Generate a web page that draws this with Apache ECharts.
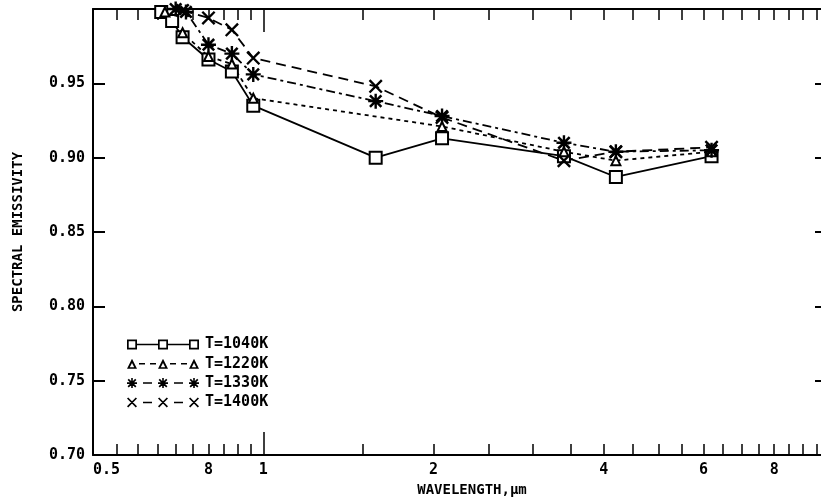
<!DOCTYPE html>
<html>
<head>
<meta charset="utf-8">
<script src="https://cdn.jsdelivr.net/npm/echarts@6/dist/echarts.min.js"></script>
<style>html,body{margin:0;padding:0;background:#fff;}#c{width:821px;height:498px;}</style>
</head>
<body>
<div id="c"></div>
<script>
// ---- data ----
const wl1040 = [0.66, 0.69, 0.72, 0.80, 0.88, 0.96, 1.58, 2.07, 3.4, 4.2, 6.2];
const em1040 = [0.998, 0.992, 0.981, 0.966, 0.958, 0.935, 0.900, 0.913, 0.901, 0.887, 0.901];
const wl1220 = [0.67, 0.72, 0.80, 0.88, 0.96, 2.07, 3.4, 4.2, 6.2];
const em1220 = [0.998, 0.984, 0.968, 0.963, 0.940, 0.921, 0.904, 0.898, 0.904];
const wl1330 = [0.70, 0.73, 0.80, 0.88, 0.96, 1.58, 2.07, 3.4, 4.2, 6.2];
const em1330 = [1.000, 0.998, 0.976, 0.970, 0.956, 0.938, 0.928, 0.910, 0.904, 0.905];
const wl1400 = [0.72, 0.80, 0.88, 0.96, 1.58, 2.07, 3.4, 4.2, 6.2];
const em1400 = [0.999, 0.994, 0.986, 0.967, 0.948, 0.927, 0.898, 0.904, 0.907];
const seriesNames = ['T=1040K', 'T=1220K', 'T=1330K', 'T=1400K'];
const xLabelValues = [0.5, 0.8, 1, 2, 4, 6, 8];
const xMinorTicks = [0.55, 0.6, 0.65, 0.7, 0.75, 0.8, 0.85, 0.9, 0.95, 1,
  1.5, 2, 2.5, 3, 3.5, 4, 4.5, 5, 5.5, 6, 6.5, 7, 7.5, 8, 8.5, 9, 9.5];
const xMajorTicks = [1];

// ---- symbol path helpers (styling only) ----
function rcw(x0, y0, x1, y1) { return `M${x0},${y0}L${x1},${y0}L${x1},${y1}L${x0},${y1}Z`; }
function rccw(x0, y0, x1, y1) { return `M${x0},${y0}L${x0},${y1}L${x1},${y1}L${x1},${y0}Z`; }
function diag1(a, b, c, d, t) { return `M${a - t},${b + t}L${a + t},${b - t}L${c + t},${d - t}L${c - t},${d + t}Z`; }
function diag2(e, f, g, h, t) { return `M${e - t},${f - t}L${e + t},${f + t}L${g + t},${h + t}L${g - t},${h - t}Z`; }
function sq(cx) { return rcw(cx - 5, 1, cx + 5, 11) + rccw(cx - 3.3, 2.7, cx + 3.3, 9.3); }
function tri(cx) {
  return `M${cx - 5},11L${cx},1L${cx + 5},11Z` + `M${cx + 2.2},9.4L${cx},5.2L${cx - 2.2},9.4Z`;
}
function ast(cx) {
  return rcw(cx - 5, 5.2, cx + 5, 6.8) + rcw(cx - 0.8, 1, cx + 0.8, 11) +
    diag1(cx - 3.8, 2.2, cx + 3.8, 9.8, 0.6) + diag2(cx + 3.8, 2.2, cx - 3.8, 9.8, 0.6);
}
function xs(cx) {
  return diag1(cx - 4.4, 1.6, cx + 4.4, 10.4, 0.6) + diag2(cx + 4.4, 1.6, cx - 4.4, 10.4, 0.6);
}
function seg(x0, x1) { return rcw(x0, 5.25, x1, 6.75); }
const iconSolid = seg(10, 31) + seg(41, 62);
const iconShort = seg(12, 18) + seg(23, 29) + seg(43, 49) + seg(54, 60);
const iconOne = seg(16, 25) + seg(47, 56);
const icons = [
  'path://' + sq(5) + iconSolid + sq(36) + sq(67),
  'path://' + tri(5) + iconShort + tri(36) + tri(67),
  'path://' + ast(5) + iconOne + ast(36) + ast(67),
  'path://' + xs(5) + iconOne + xs(36) + xs(67)
];
const astSym = 'path://' + ast(5);
const xSym = 'path://' + xs(5);

function zip(a, b) { return a.map((v, i) => [v, b[i]]); }

const FONT = 'DejaVu Sans Mono';
const chart = echarts.init(document.getElementById('c'), null, { renderer: 'canvas' });

const commonX = { type: 'log', logBase: 10, min: 0.5, max: 10, gridIndex: 0, splitLine: { show: false } };

chart.setOption({
  animation: false,
  backgroundColor: '#fff',
  grid: { left: 93, right: -8, top: 9, bottom: 43, containLabel: false, outerBoundsMode: 'none' },
  legend: {
    orient: 'vertical', left: 122, top: 332, itemWidth: 72, itemHeight: 10, itemGap: 4.3,
    textStyle: { fontFamily: FONT, fontSize: 15, fontWeight: 'bold', color: '#000', lineHeight: 12, padding: [0, 0, 0, 1] },
    data: seriesNames.map((n, i) => ({ name: n, icon: icons[i] })),
    inactiveColor: '#000'
  },
  xAxis: [
    Object.assign({}, commonX, {
      position: 'bottom',
      name: 'WAVELENGTH,\u03bcm', nameLocation: 'middle', nameGap: 27,
      nameTextStyle: { fontFamily: FONT, fontSize: 14, fontWeight: 'bold', color: '#000', padding: [0, 0, 0, 22] },
      axisLine: { show: true, onZero: false, lineStyle: { color: '#000', width: 2 } },
      axisTick: { show: true, inside: true, length: 11, customValues: xMinorTicks, lineStyle: { color: '#000', width: 1.5 } },
      axisLabel: {
        show: true, customValues: xLabelValues, margin: 8, alignMinLabel: 'left',
        fontFamily: FONT, fontSize: 15, fontWeight: 'bold', color: '#000',
        formatter: v => (Math.abs(v - 0.8) < 1e-6 ? '8' : String(+v.toPrecision(6)))
      }
    }),
    Object.assign({}, commonX, {
      position: 'top',
      axisLine: { show: true, onZero: false, lineStyle: { color: '#000', width: 2 } },
      axisTick: { show: true, inside: true, length: 11, customValues: xMinorTicks, lineStyle: { color: '#000', width: 1.5 } },
      axisLabel: { show: false }
    }),
    Object.assign({}, commonX, {
      position: 'bottom',
      axisLine: { show: false },
      axisTick: { show: true, inside: true, length: 23, customValues: xMajorTicks, lineStyle: { color: '#000', width: 1.5 } },
      axisLabel: { show: false }
    }),
    Object.assign({}, commonX, {
      position: 'top',
      axisLine: { show: false },
      axisTick: { show: true, inside: true, length: 23, customValues: xMajorTicks, lineStyle: { color: '#000', width: 1.5 } },
      axisLabel: { show: false }
    })
  ],
  yAxis: [
    {
      type: 'value', min: 0.7, max: 1.0, interval: 0.05, position: 'left',
      name: 'SPECTRAL EMISSIVITY', nameLocation: 'middle', nameGap: 68,
      nameTextStyle: { fontFamily: FONT, fontSize: 14, fontWeight: 'bold', color: '#000' },
      splitLine: { show: false },
      axisLine: { show: true, onZero: false, lineStyle: { color: '#000', width: 2 } },
      axisTick: { show: true, inside: true, length: 12, lineStyle: { color: '#000', width: 2 } },
      axisLabel: {
        margin: 8, fontFamily: FONT, fontSize: 15, fontWeight: 'bold', color: '#000',
        formatter: v => (v >= 0.999 ? '' : v.toFixed(2))
      }
    },
    {
      type: 'value', min: 0.7, max: 1.0, interval: 0.05, position: 'right',
      splitLine: { show: false },
      axisLine: { show: true, onZero: false, lineStyle: { color: '#000', width: 2 } },
      axisTick: { show: true, inside: true, length: 14, lineStyle: { color: '#000', width: 2 } },
      axisLabel: { show: false }
    }
  ],
  series: [
    {
      name: seriesNames[0], type: 'line', xAxisIndex: 0, yAxisIndex: 0,
      data: zip(wl1040, em1040),
      symbol: 'emptyRect', symbolSize: 12,
      itemStyle: { color: '#000', borderWidth: 2 },
      lineStyle: { color: '#000', width: 1.8, type: 'solid' }
    },
    {
      name: seriesNames[1], type: 'line', xAxisIndex: 0, yAxisIndex: 0,
      data: zip(wl1220, em1220),
      symbol: 'emptyTriangle', symbolSize: 9,
      itemStyle: { color: '#000', borderWidth: 2 },
      lineStyle: { color: '#000', width: 1.8, type: [4, 4] }
    },
    {
      name: seriesNames[2], type: 'line', xAxisIndex: 0, yAxisIndex: 0,
      data: zip(wl1330, em1330),
      symbol: astSym, symbolSize: 15,
      itemStyle: { color: '#000' },
      lineStyle: { color: '#000', width: 1.8, type: [9, 4, 3, 4] }
    },
    {
      name: seriesNames[3], type: 'line', xAxisIndex: 0, yAxisIndex: 0,
      data: zip(wl1400, em1400),
      symbol: xSym, symbolSize: 14,
      itemStyle: { color: '#000' },
      lineStyle: { color: '#000', width: 1.8, type: [10, 6] }
    }
  ]
});
</script>
</body>
</html>
